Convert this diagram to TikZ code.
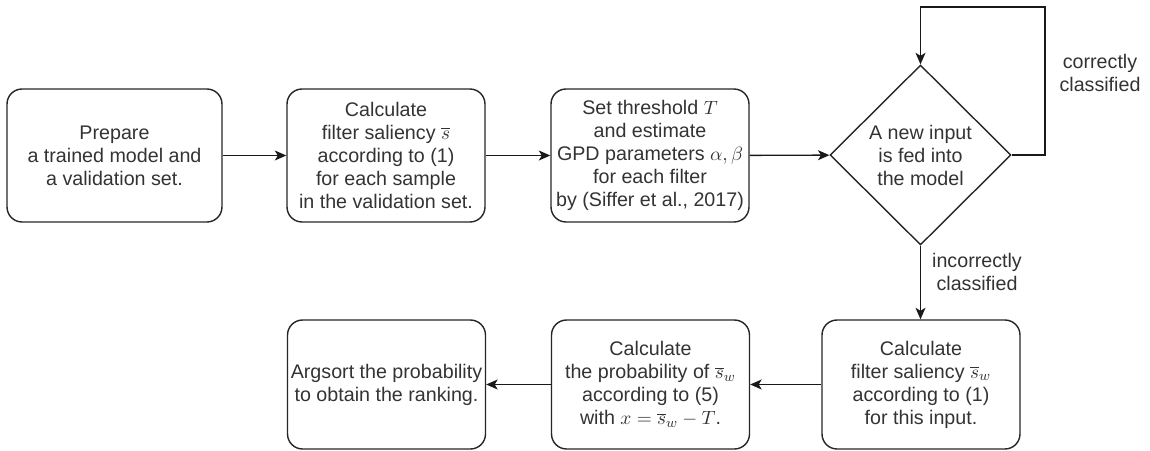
\documentclass[tikz,border=0pt]{standalone}
\usepackage{fontspec}
\setmainfont{Liberation Sans}
\usetikzlibrary{shapes.geometric,arrows.meta}
\begin{document}
\begin{tikzpicture}[x=0.02cm,y=-0.02cm,
  every node/.style={font=\fontsize{11.2}{13.1}\selectfont, text=black!80},
  boxstep/.style={draw=black!85, line width=0.8pt, rounded corners=0.3cm, align=center, inner sep=0pt, minimum height=2.66cm},
  decide/.style={draw=black!85, line width=0.8pt, diamond, align=center, inner sep=0pt, minimum width=3.62cm, minimum height=3.6cm},
  conn/.style={draw=black!90, line width=0.8pt, -{Stealth[length=0.23cm,width=0.2cm,inset=0.06cm]}},
  lbl/.style={align=center}
]
\useasboundingbox (0,0) rectangle (1150,450);
\node[boxstep, minimum width=4.3cm] (b1) at (114.5,155.5) {Prepare\\a trained model and\\a validation set.};
\node[boxstep, minimum width=3.96cm] (b2) at (386,155.5) {Calculate\\filter saliency $\overline{s}$\\according to (1)\\for each sample\\in the validation set.};
\node[boxstep, minimum width=3.96cm] (b3) at (650,155.5) {Set threshold $T$\\and estimate\\GPD parameters $\alpha,\beta$\\for each filter\\by (Siffer et al., 2017)};
\node[decide] (d) at (920.5,155) {A new input\\is fed into\\the model};
\node[boxstep, minimum width=3.96cm, minimum height=2.58cm] (b4) at (921,384.5) {Calculate\\filter saliency $\overline{s}_w$\\according to (1)\\for this input.};
\node[boxstep, minimum width=3.96cm, minimum height=2.58cm] (b5) at (650.5,384.5) {Calculate\\the probability of $\overline{s}_w$\\according to (5)\\with $x=\overline{s}_w-T$.};
\node[boxstep, minimum width=3.96cm, minimum height=2.58cm] (b6) at (386.5,384.5) {Argsort the probability\\to obtain the ranking.};
\coordinate (lr) at (1045,155);
\coordinate (lt) at (1045,7);
\node[lbl] (lc) at (1100,73) {correctly\\classified};
\node[lbl] (li) at (977,272) {incorrectly\\classified};
\draw[conn] (b1) -- (b2);
\draw[conn] (b2) -- (b3);
\draw[conn] (b3) -- (d);
\draw[conn] (d.east) -- (lr) -- (lt) -| (d.north);
\draw[conn] (d.south) -- (b4.north -| d.south);
\draw[conn] (b4) -- (b5);
\draw[conn] (b5) -- (b6);
\end{tikzpicture}
\end{document}
